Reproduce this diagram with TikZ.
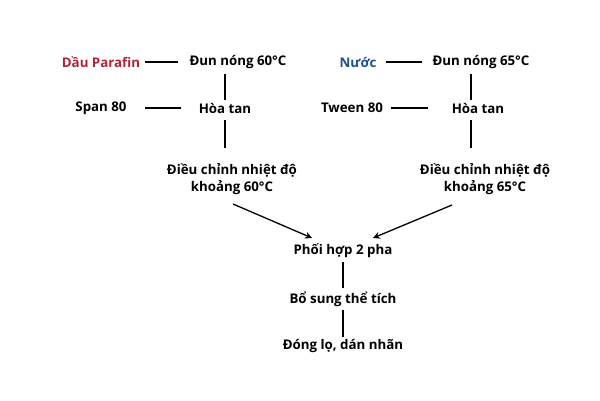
\documentclass[tikz,border=0pt]{standalone}
\usepackage{fontspec}
\setmainfont{Open Sans}
\usetikzlibrary{arrows.meta}
\begin{document}
\begin{tikzpicture}[x=1pt,y=-1pt,
  lbl/.style={font=\fontsize{13.3}{17}\selectfont\bfseries,inner sep=3pt,align=center},
  ln/.style={line width=1.3pt},
  ar/.style={line width=1.3pt,-{Stealth[length=7pt,width=7pt]}}]
\useasboundingbox (0,0) rectangle (600,400);
\definecolor{rd}{HTML}{B0243A}
\definecolor{bl}{HTML}{1F4E8C}
\node[lbl,text=rd] (dp) at (101,62) {Dầu Parafin};
\node[lbl] (dn1) at (238,62) {Đun nóng 60°C};
\node[lbl] (sp) at (101,108) {Span 80};
\node[lbl] (ht1) at (225,108) {Hòa tan};
\node[lbl] (dc1) at (232,179) {Điều chỉnh nhiệt độ\\khoảng 60°C};
\node[lbl,text=bl] (nu) at (358,62) {Nước};
\node[lbl] (dn2) at (481,62) {Đun nóng 65°C};
\node[lbl] (tw) at (352,108) {Tween 80};
\node[lbl] (ht2) at (478,108) {Hòa tan};
\node[lbl] (dc2) at (485,179) {Điều chỉnh nhiệt độ\\khoảng 65°C};
\node[lbl] (ph) at (343,251) {Phối hợp 2 pha};
\node[lbl] (bs) at (343,299) {Bổ sung thể tích};
\node[lbl] (dl) at (343,346) {Đóng lọ, dán nhãn};
\draw[ln] (145,62) -- (178,62);
\draw[ln] (225,74) -- (225,100);
\draw[ln] (145,108) -- (181,108);
\draw[ln] (225,120) -- (225,148);
\draw[ln] (386,62) -- (422,62);
\draw[ln] (471,74) -- (471,100);
\draw[ln] (391,108) -- (428,108);
\draw[ln] (471,120) -- (471,148);
\draw[ar] (233,204) -- (312,238);
\draw[ar] (452,205) -- (373,238);
\draw[ln] (343,262) -- (343,288);
\draw[ln] (343,310) -- (343,337);
\end{tikzpicture}
\end{document}
